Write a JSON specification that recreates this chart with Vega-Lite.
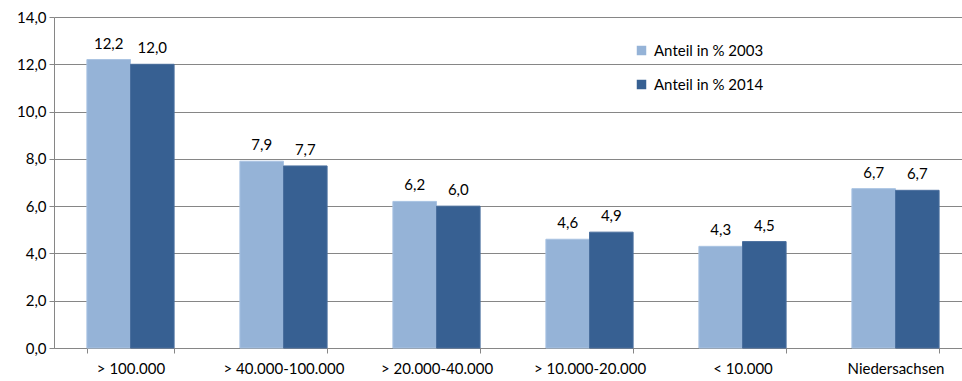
{
  "$schema": "https://vega.github.io/schema/vega-lite/v6.json",
  "autosize": {"type": "none"},
  "padding": {"left": 54, "top": 17, "right": 0, "bottom": 33},
  "width": 908,
  "height": 331,
  "background": "white",
  "config": {
    "locale": {"number": {"decimal": ",", "thousands": ".", "grouping": [3], "currency": ["", " €"]}},
    "font": "Lato",
    "view": {"stroke": null}
  },
  "data": {
    "values": [
      {"Gruppe": "> 100.000", "Serie": "Anteil in % 2003", "Wert": 12.2},
      {"Gruppe": "> 100.000", "Serie": "Anteil in % 2014", "Wert": 12.0},
      {"Gruppe": "> 40.000-100.000", "Serie": "Anteil in % 2003", "Wert": 7.9},
      {"Gruppe": "> 40.000-100.000", "Serie": "Anteil in % 2014", "Wert": 7.7},
      {"Gruppe": "> 20.000-40.000", "Serie": "Anteil in % 2003", "Wert": 6.2},
      {"Gruppe": "> 20.000-40.000", "Serie": "Anteil in % 2014", "Wert": 6.0},
      {"Gruppe": "> 10.000-20.000", "Serie": "Anteil in % 2003", "Wert": 4.6},
      {"Gruppe": "> 10.000-20.000", "Serie": "Anteil in % 2014", "Wert": 4.9},
      {"Gruppe": "< 10.000", "Serie": "Anteil in % 2003", "Wert": 4.3},
      {"Gruppe": "< 10.000", "Serie": "Anteil in % 2014", "Wert": 4.5},
      {"Gruppe": "Niedersachsen", "Serie": "Anteil in % 2003", "Wert": 6.74},
      {"Gruppe": "Niedersachsen", "Serie": "Anteil in % 2014", "Wert": 6.67}
    ]
  },
  "encoding": {
    "x": {
      "field": "Gruppe",
      "type": "nominal",
      "sort": null,
      "title": null,
      "scale": {"range": [0, 918], "paddingInner": 0.43, "paddingOuter": 0.215},
      "axis": {
        "labelAngle": 0,
        "labelFontSize": 15,
        "labelColor": "#000000",
        "labelPadding": 8,
        "tickBand": "extent",
        "tickSize": 5,
        "tickColor": "#868686",
        "domainColor": "#868686",
        "grid": false
      }
    },
    "xOffset": {"field": "Serie", "type": "nominal", "scale": {"paddingInner": 0, "paddingOuter": 0}},
    "y": {
      "field": "Wert",
      "type": "quantitative",
      "title": null,
      "scale": {"domain": [0, 14], "nice": false},
      "axis": {
        "values": [0, 2, 4, 6, 8, 10, 12, 14],
        "format": ".1f",
        "labelFontSize": 15,
        "labelColor": "#000000",
        "labelPadding": 3,
        "tickSize": 5,
        "tickColor": "#868686",
        "domainColor": "#868686",
        "gridColor": "#868686",
        "gridWidth": 1
      }
    }
  },
  "layer": [
    {
      "mark": {"type": "bar", "strokeWidth": 1},
      "encoding": {
        "color": {
          "field": "Serie",
          "type": "nominal",
          "scale": {"range": ["#95B3D7", "#376092"]},
          "legend": {
            "title": null,
            "orient": "none",
            "legendX": 580,
            "legendY": 26,
            "symbolType": "square",
            "symbolSize": 90,
            "symbolStrokeWidth": 0,
            "labelFontSize": 15,
            "labelColor": "#000000",
            "labelOffset": 5,
            "rowPadding": 18
          }
        },
        "stroke": {
          "field": "Serie",
          "type": "nominal",
          "scale": {"range": ["#A9C3E2", "#4A6F9E"]},
          "legend": null
        }
      }
    },
    {
      "mark": {"type": "text", "baseline": "bottom", "dy": -8, "fontSize": 15, "color": "#000000"},
      "encoding": {
        "text": {"field": "Wert", "type": "quantitative", "format": ".1f"}
      }
    }
  ]
}
